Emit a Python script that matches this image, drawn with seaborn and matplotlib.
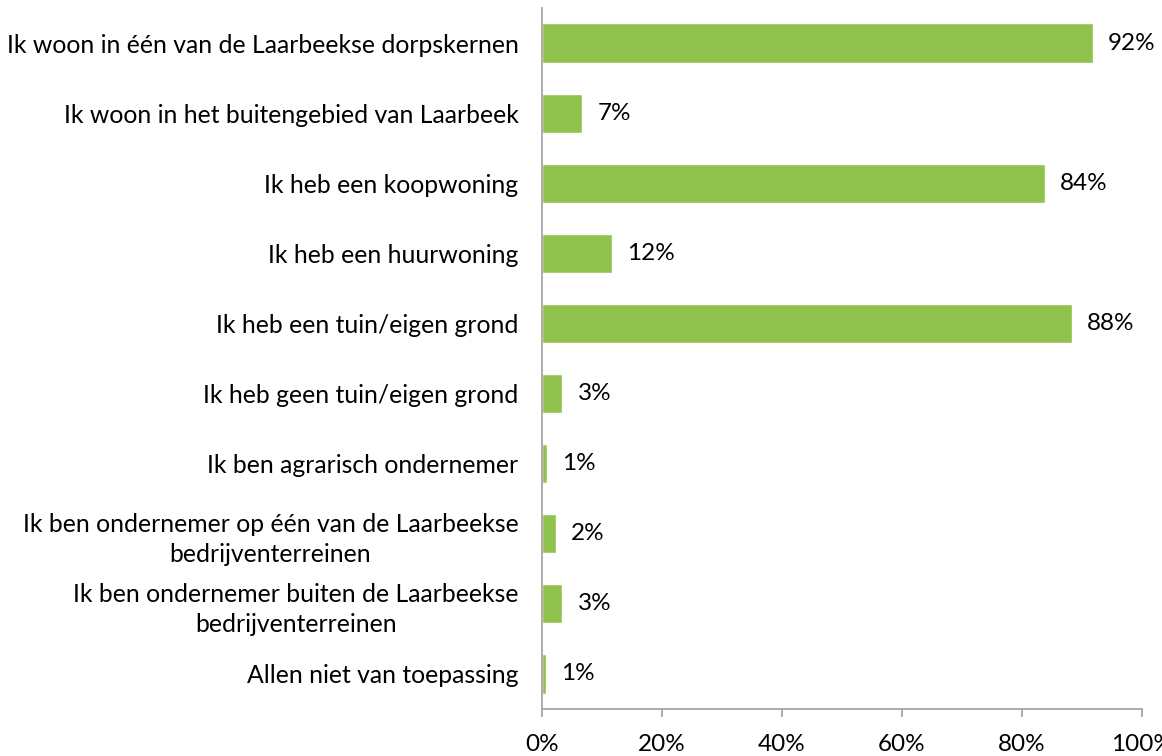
import matplotlib
matplotlib.use("Agg")
import matplotlib.pyplot as plt
import seaborn as sns
import pandas as pd
from matplotlib.ticker import FuncFormatter

categories = [
    "Ik woon in één van de Laarbeekse dorpskernen",
    "Ik woon in het buitengebied van Laarbeek",
    "Ik heb een koopwoning",
    "Ik heb een huurwoning",
    "Ik heb een tuin/eigen grond",
    "Ik heb geen tuin/eigen grond",
    "Ik ben agrarisch ondernemer",
    "Ik ben ondernemer op één van de Laarbeekse\nbedrijventerreinen",
    "Ik ben ondernemer buiten de Laarbeekse\nbedrijventerreinen",
    "Allen niet van toepassing",
]
values = [91.8, 6.7, 83.8, 11.7, 88.3, 3.4, 0.8, 2.3, 3.4, 0.7]
xticks = [0, 20, 40, 60, 80, 100]

sns.set_theme(style="white")
plt.rcParams['font.family'] = ['Lato', 'DejaVu Sans']

df = pd.DataFrame({"cat": categories, "val": values})

fig = plt.figure(figsize=(11.62, 7.56), dpi=100)
ax = fig.add_axes([542/1162, 1-709/756, 600/1162, 701/756])

sns.barplot(data=df, x="val", y="cat", orient="h", color="#8fc34d",
            width=0.56, saturation=1, ax=ax)

ax.set_xlim(0, 100)
ax.set_ylim(9.5, -0.5)
ax.set_xticks(xticks)
ax.xaxis.set_major_formatter(FuncFormatter(lambda v, p: f"{v:.0f}%"))
ax.set_xlabel("")
ax.set_ylabel("")

for s in ["top", "right"]:
    ax.spines[s].set_visible(False)
for s in ["left", "bottom"]:
    ax.spines[s].set_color("#a6a6a6")
    ax.spines[s].set_linewidth(1.3)

ax.tick_params(axis="x", bottom=True, length=6, width=1.3, color="#a6a6a6",
               labelsize=17.5, pad=12, labelcolor="black")
ax.tick_params(axis="y", left=False, length=0, labelsize=17.8, pad=17, labelcolor="black")
for lab in ax.get_yticklabels():
    lab.set_multialignment("center")
    lab.set_linespacing(1.4)

for c in ax.containers:
    ax.bar_label(c, labels=[f"{round(v)}%" for v in values], padding=11,
                 fontsize=17.5, color="black")

fig.savefig("out.png", dpi=100)
